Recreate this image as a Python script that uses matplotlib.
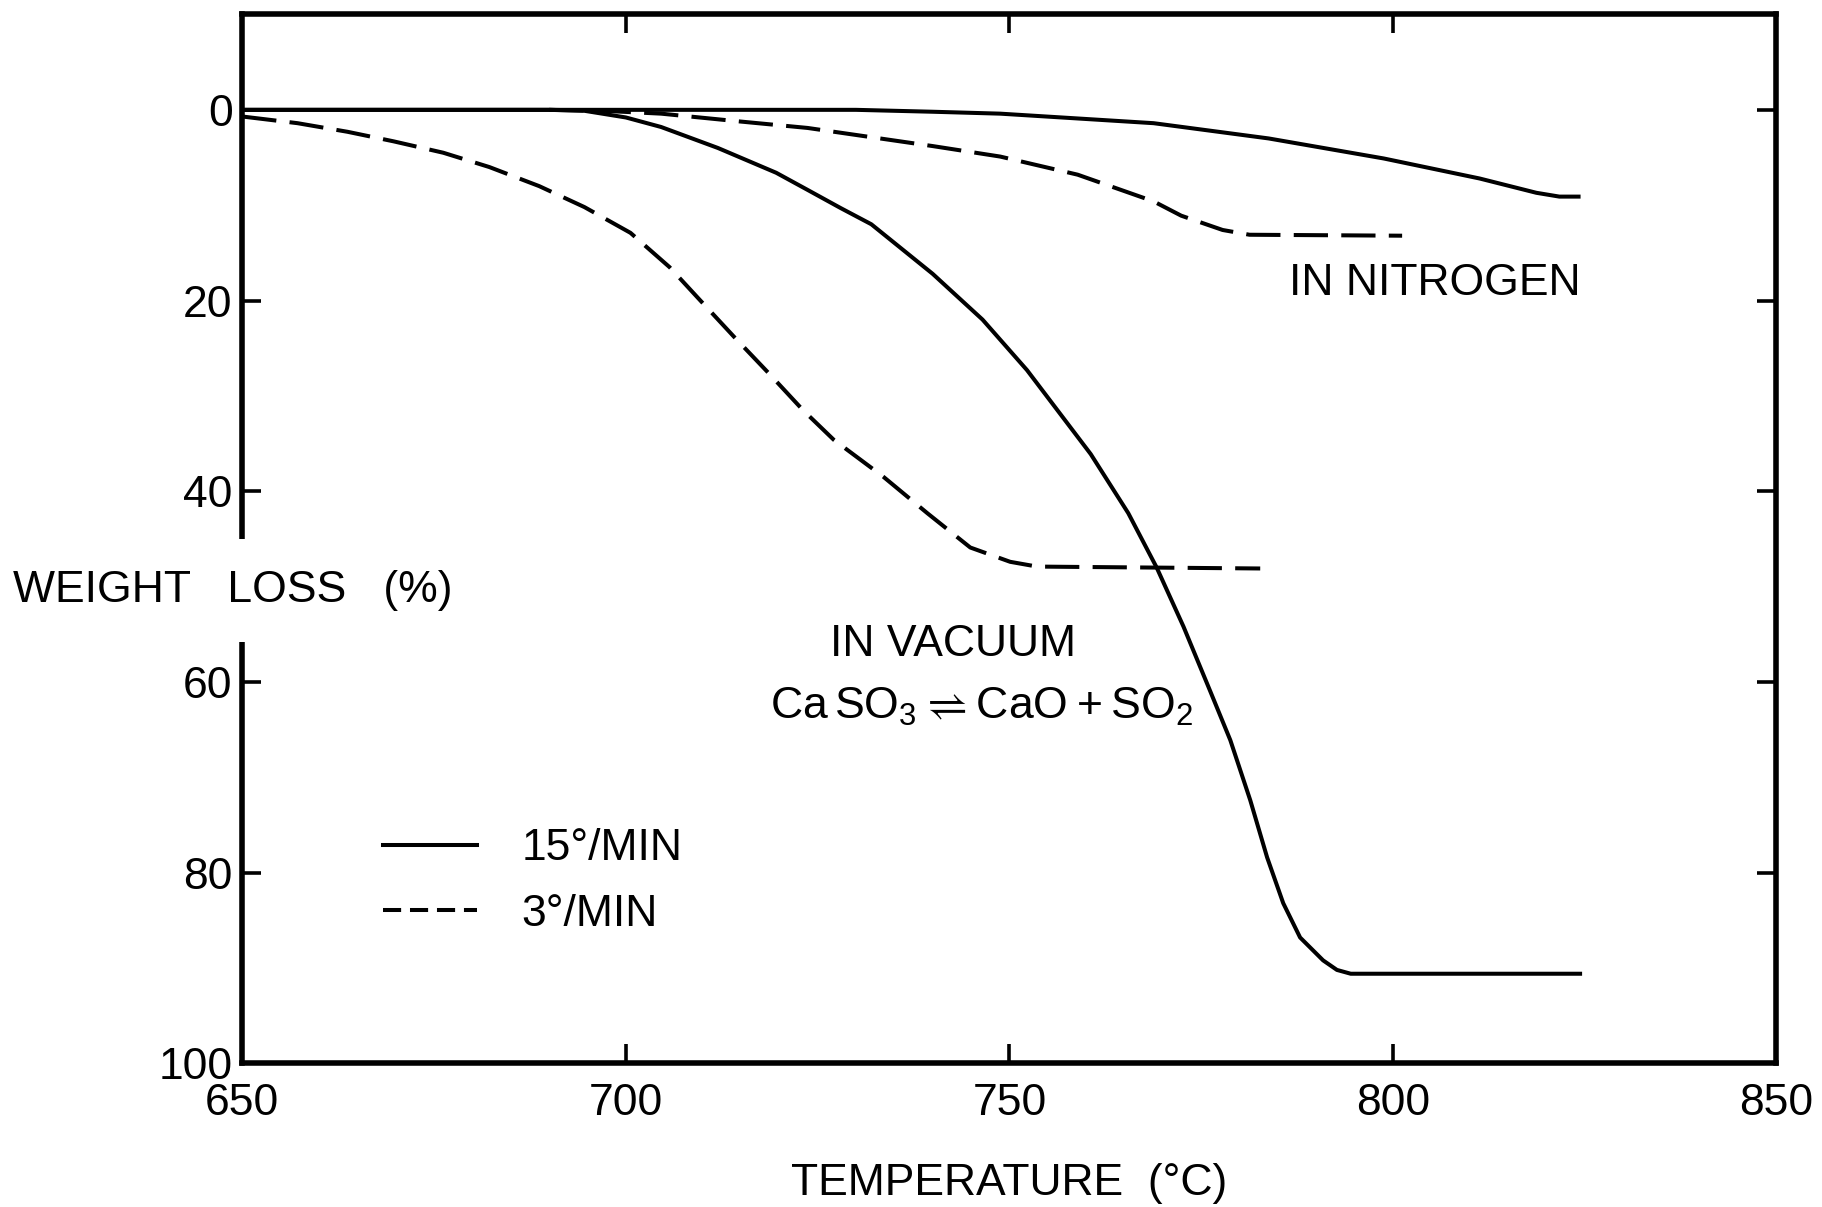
import numpy as np
import matplotlib
matplotlib.use("Agg")
import matplotlib.pyplot as plt

plt.rcParams['font.family'] = ['Liberation Sans', 'DejaVu Sans']
plt.rcParams['mathtext.fontset'] = 'custom'
plt.rcParams['mathtext.rm'] = 'Liberation Sans'

# --- data (temperature in °C, weight loss in %) ---
vac_fast_t = [650, 690, 694.6, 700, 704.6, 712, 719.6, 723.7, 728, 732, 740, 746.5,
              752.3, 760.6, 765.5, 769.2, 772.7, 776.2, 778.8, 781.4, 783.6, 785.7,
              787.9, 790.9, 792.7, 794.5, 824.4]
vac_fast_w = [0, 0, 0.1, 0.8, 1.8, 4.0, 6.6, 8.4, 10.3, 12.0, 17.2, 22.0,
              27.3, 36.1, 42.3, 48.0, 54.2, 61.0, 66.1, 72.4, 78.4, 83.2,
              86.8, 89.2, 90.2, 90.6, 90.6]

vac_slow_t = [650, 657.2, 663.7, 669.7, 676.2, 682.2, 688.7, 694.6, 700.6, 705.7,
              709.6, 714.1, 718.6, 723.1, 727.1, 733.6, 739.3, 744.9, 750.1, 753.6, 782.7]
vac_slow_w = [0.7, 1.4, 2.3, 3.3, 4.5, 6.0, 8.0, 10.2, 12.9, 16.5,
              19.9, 23.8, 27.6, 31.5, 34.6, 38.5, 42.3, 45.9, 47.4, 47.9, 48.1]

n2_fast_t = [650, 730, 740, 748.8, 768.8, 783.8, 798.8, 811.3, 818.7, 821.7, 824.2]
n2_fast_w = [0, 0, 0.2, 0.4, 1.4, 3.0, 5.1, 7.2, 8.7, 9.1, 9.1]

n2_slow_t = [690, 697, 704.6, 714.6, 723.7, 740, 748.8, 758.9, 768.8, 772.4, 777.8,
             781.3, 801.2]
n2_slow_w = [0, 0.1, 0.4, 1.2, 1.9, 3.8, 4.9, 6.8, 9.6, 11.1, 12.6,
             13.1, 13.2]

x_ticks = [650, 700, 750, 800, 850]
y_ticks = [0, 20, 40, 60, 80, 100]

FS = 32
LW = 2.9

fig = plt.figure(figsize=(18.22, 12.07), dpi=100)
ax = fig.add_axes([0.133, 0.119, 0.842, 0.869])

dash = (0, (8.5, 3.3))
ax.plot(vac_fast_t, vac_fast_w, color='black', lw=LW, label='15°/MIN')
ax.plot(vac_slow_t, vac_slow_w, color='black', lw=LW, linestyle=dash, label='3°/MIN')
ax.plot(n2_fast_t, n2_fast_w, color='black', lw=LW)
ax.plot(n2_slow_t, n2_slow_w, color='black', lw=LW, linestyle=dash)

ax.set_xlim(650, 850)
ax.set_ylim(100, -10)
ax.set_xticks(x_ticks)
ax.set_yticks(y_ticks)
ax.tick_params(direction='in', length=14, width=2.6, top=True, right=True,
               labelsize=FS)
ax.tick_params(axis='x', pad=14)
ax.tick_params(axis='y', pad=7)
for s in ax.spines.values():
    s.set_linewidth(4)

ax.set_xlabel('TEMPERATURE  (°C)', fontsize=FS, labelpad=28)

# horizontal y label sitting over a gap in the left spine
ax.text(-0.0065, 50.4, 'WEIGHT   LOSS   (%)', fontsize=FS, ha='center', va='center',
        transform=ax.get_yaxis_transform(), clip_on=False, zorder=10,
        bbox=dict(facecolor='white', edgecolor='none', pad=22))

ax.text(805.5, 18.2, 'IN NITROGEN', fontsize=FS, ha='center', va='center')
ax.text(742.6, 56.1, 'IN VACUUM', fontsize=FS, ha='center', va='center')
ax.text(746.4, 62.6, r'$\mathregular{Ca\,SO_3 \rightleftharpoons CaO+SO_2}$',
        fontsize=FS, ha='center', va='center')

leg = ax.legend(loc='center left', bbox_to_anchor=(0.092, 0.1735), frameon=False,
                fontsize=FS, handlelength=2.1, handletextpad=1.0, labelspacing=0.55,
                borderpad=0, borderaxespad=0)
leg.get_lines()[1].set_linestyle((0, (4.5, 2.2)))

fig.savefig('out.png', dpi=100, facecolor='white')
